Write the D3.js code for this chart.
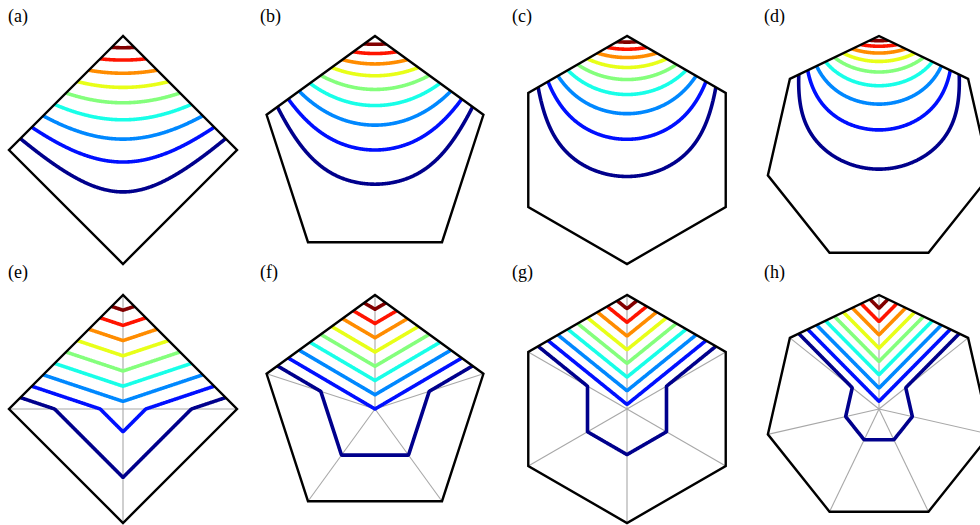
<!DOCTYPE html>
<html>
<head>
<meta charset="utf-8">
<script src="https://cdnjs.cloudflare.com/ajax/libs/d3/7.8.5/d3.min.js"></script>
<style>
body { margin: 0; background: #fff; }
svg { display: block; }
.label { font-family: "Liberation Serif", "Times New Roman", Times, "DejaVu Serif", serif; font-size: 18px; }
</style>
</head>
<body>
<div id="chart"></div>
<script>
// panels: number of polygon sides, label, and which coordinate type
var sides = [4, 5, 6, 7, 4, 5, 6, 7];
var labels = ["(a)", "(b)", "(c)", "(d)", "(e)", "(f)", "(g)", "(h)"];
var kinds = ["smooth", "smooth", "smooth", "smooth", "linear", "linear", "linear", "linear"];

// contour levels of the top vertex coordinate and their colours (jet)
var levels = [0.1, 0.2, 0.3, 0.4, 0.5, 0.6, 0.7, 0.8, 0.9];
var levelColors = ["#00008c", "#0010ff", "#0088ff", "#18ffe8", "#84ff7c", "#e8ff18", "#ff8c00", "#ff1400", "#820000"];

var width = 980;
var height = 525;
var radius = 114;
var gridN = 420;
var ext = 1.08;

var svg = d3.select("#chart")
    .append("svg")
    .attr("width", width)
    .attr("height", height);

var defs = svg.append("defs");

function vertices(n) {
    return d3.range(n).map(function(k) {
        var a = Math.PI / 2 + 2 * Math.PI * k / n;
        return [Math.cos(a), Math.sin(a)];
    });
}

// Wachspress coordinate of vertex 0 (written with the adjoint, no poles on edges)
function wachspress(n) {
    var apo = Math.cos(Math.PI / n);
    var normals = d3.range(n).map(function(j) {
        var a = Math.PI / 2 + 2 * Math.PI * (j + 0.5) / n;
        return [Math.cos(a), Math.sin(a)];
    });
    return function(x, y) {
        var d = normals.map(function(nv) { return apo - x * nv[0] - y * nv[1]; });
        var num = 0, den = 0;
        for (var i = 0; i < n; i++) {
            var p = 1;
            for (var j = 0; j < n; j++) {
                if (j != i && j != (i + n - 1) % n) p *= d[j];
            }
            if (i == 0) num = p;
            den += p;
        }
        return num / den;
    };
}

// piecewise linear on the fan triangulation, centre value 1/n
function fanLinear(n) {
    var v = vertices(n);
    var step = 2 * Math.PI / n;
    return function(x, y) {
        var t = Math.atan2(y, x) - Math.PI / 2;
        t = ((t % (2 * Math.PI)) + 2 * Math.PI) % (2 * Math.PI);
        var k = Math.min(n - 1, Math.floor(t / step));
        var k1 = (k + 1) % n;
        var a = v[k], b = v[k1];
        var det = a[0] * b[1] - a[1] * b[0];
        var al = (x * b[1] - y * b[0]) / det;
        var be = (a[0] * y - a[1] * x) / det;
        var ga = 1 - al - be;
        return (k == 0 ? al : 0) + (k1 == 0 ? be : 0) + ga / n;
    };
}

for (var p = 0; p < sides.length; p++) {
    var n = sides[p];
    var col = p % 4;
    var row = Math.floor(p / 4);
    var cx = 123 + 252 * col;
    var cy = row == 0 ? 150 : 409;

    var xScale = d3.scaleLinear().domain([-1, 1]).range([cx - radius, cx + radius]);
    var yScale = d3.scaleLinear().domain([-1, 1]).range([cy + radius, cy - radius]);
    var gx = d3.scaleLinear().domain([0.5, gridN - 0.5]).range([-ext, ext]);
    var gy = d3.scaleLinear().domain([0.5, gridN - 0.5]).range([ext, -ext]);

    var verts = vertices(n);
    var polyPts = verts.map(function(v) { return [xScale(v[0]), yScale(v[1])]; });
    var polyStr = polyPts.map(function(q) { return q[0] + "," + q[1]; }).join(" ");

    var g = svg.append("g");

    defs.append("clipPath")
        .attr("id", "clip" + p)
        .append("polygon")
        .attr("points", polyStr);

    // spokes
    if (kinds[p] == "linear") {
        g.selectAll("line.spoke")
            .data(polyPts)
            .enter()
            .append("line")
            .attr("class", "spoke")
            .attr("x1", xScale(0))
            .attr("y1", yScale(0))
            .attr("x2", function(q) { return q[0]; })
            .attr("y2", function(q) { return q[1]; })
            .attr("stroke", "#a8a8a8")
            .attr("stroke-width", 1.1);
    }

    // sample the coordinate function on a grid
    var f = kinds[p] == "smooth" ? wachspress(n) : fanLinear(n);
    var values = new Array(gridN * gridN);
    for (var j = 0; j < gridN; j++) {
        for (var i = 0; i < gridN; i++) {
            values[j * gridN + i] = f(gx(i + 0.5), gy(j + 0.5));
        }
    }
    var contours = d3.contours()
        .size([gridN, gridN])
        .thresholds(levels)(values);

    var proj = d3.geoTransform({
        point: function(x, y) {
            this.stream.point(xScale(gx(x)), yScale(gy(y)));
        }
    });
    var path = d3.geoPath(proj);

    g.append("g")
        .attr("clip-path", "url(#clip" + p + ")")
        .selectAll("path")
        .data(contours)
        .enter()
        .append("path")
        .attr("d", path)
        .attr("fill", "none")
        .attr("stroke", function(c) { return levelColors[levels.indexOf(c.value)]; })
        .attr("stroke-width", 3.6)
        .attr("stroke-linejoin", "round");

    // polygon border
    g.append("polygon")
        .attr("points", polyStr)
        .attr("fill", "none")
        .attr("stroke", "black")
        .attr("stroke-width", 2.4)
        .attr("stroke-linejoin", "miter");

    svg.append("text")
        .attr("class", "label")
        .attr("x", cx - 115)
        .attr("y", row == 0 ? 22 : 278)
        .attr("fill", "black")
        .text(labels[p]);
}
</script>
</body>
</html>
